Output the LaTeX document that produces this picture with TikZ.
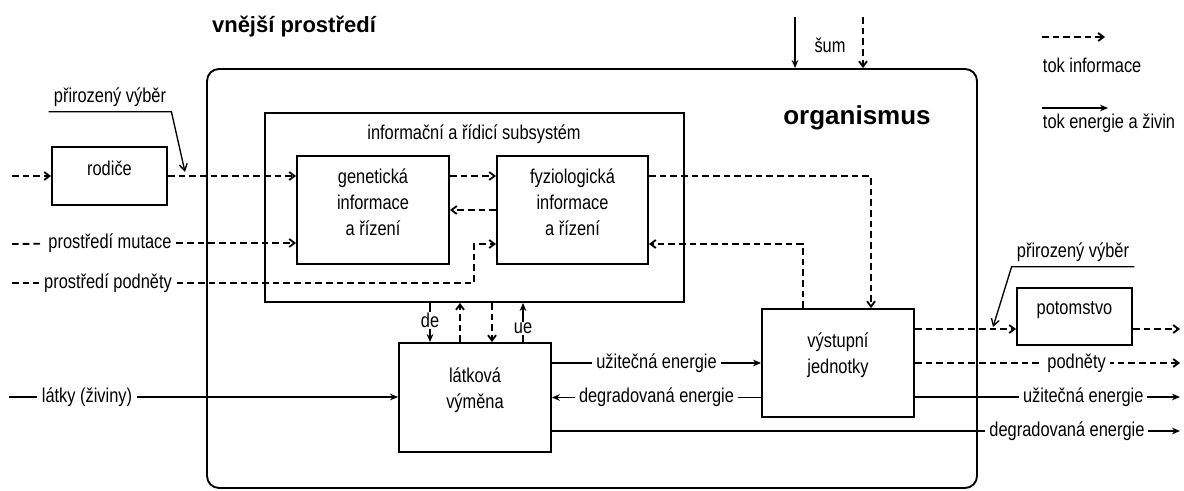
\documentclass[tikz,border=0pt]{standalone}
\usepackage{fontspec}
\setmainfont{Liberation Sans}[FakeStretch=0.82]
\newfontfamily\headfont{Liberation Sans}
\usetikzlibrary{arrows.meta,fit}

\begin{document}
\begin{tikzpicture}[x=0.75pt,y=-0.75pt,
  line width=1.4pt,
  font=\fontsize{15}{19.5}\selectfont,
  box/.style={draw,inner sep=0pt},
  info/.style={dash pattern=on 5pt off 3pt},
  ia/.style={info,-{Straight Barb[length=4pt,width=6pt]}},
  ea/.style={-{Stealth[length=6pt,width=5pt]}},
  lbl/.style={fill=white,inner sep=3pt},
  sel/.style={line width=1pt,-{Straight Barb[length=5pt,width=6pt]}},
  head/.style={font=\headfont\bfseries\fontsize{#1}{#1}\selectfont}]
\useasboundingbox (0,0) rectangle (1184,491);

\node[box,rounded corners=9pt,fit={(207,69) (977,488)}] (org) {};
\node[box,fit={(265,113) (684,302)}] (inf) {};
\node[box,fit={(52,147) (167,205)}] (rod) {rodiče};
\node[box,align=center,fit={(297,156) (449,264)}] (gen) {genetická\\informace\\a řízení};
\node[box,align=center,fit={(497,156) (648,264)}] (fyz) {fyziologická\\informace\\a řízení};
\node[box,align=center,fit={(399,343) (551,452)}] (lat) {látková\\výměna};
\node[box,align=center,fit={(762,309) (914,417)}] (vys) {výstupní\\jednotky};
\node[box,fit={(1017,288) (1132,345)}] (pot) {potomstvo};

\node[head=16.5] (vp) at (294,27) {vnější prostředí};
\node[head=19.5] (orgt) at (857,118) {organismus};
\node (inft) at (474,134) {informační a řídicí subsystém};
\node (sum) at (830,45) {šum};

\coordinate (s1) at (795,17);
\coordinate (s2) at (863,17);
\draw[ea] (s1) -- (s1 |- org.north);
\draw[ia] (s2) -- (s2 |- org.north);

\coordinate (l1) at (1042,37);
\coordinate (l2) at (1105,37);
\coordinate (l3) at (1042,108);
\coordinate (l4) at (1108,108);
\draw[ia] (l1) -- (l2);
\draw[ea] (l3) -- (l4);
\node[anchor=west,inner sep=0pt] (lt1) at (1042,65) {tok informace};
\node[anchor=west,inner sep=0pt] (lt2) at (1042,123) {tok energie a živin};

\coordinate (a1) at (12,176);
\draw[ia] (a1) -- (rod);
\draw[ia] (rod) -- (rod -| gen.west);
\node (pv1) at (110,97) {přirozený výběr};
\coordinate (pv1t) at (185,172);
\draw[sel] (pv1.south west) -- (pv1.south east) -- (pv1t);

\coordinate (a2) at (12,244);
\node[lbl] (mut) at (110,243) {prostředí mutace};
\draw[info] (a2) -- (mut);
\draw[ia] (mut) -- (mut -| gen.west);

\coordinate (a3) at (12,283);
\coordinate (c1) at (474,244);
\node[lbl] (pod) at (108,283) {prostředí podněty};
\draw[info] (a3) -- (pod);
\draw[ia] (pod) -| (c1) -- (c1 -| fyz.west);

\draw[ia] (rod -| gen.east) -- (rod -| fyz.west);
\draw[ia] (fyz) -- (gen);
\coordinate (c2) at (871,176);
\coordinate (c3) at (803,244);
\draw[ia] (rod -| fyz.east) -- (c2) -- (c2 |- vys.north);
\draw[ia] (c3 |- vys.north) -- (c3) -- (c3 -| fyz.east);

\foreach \x/\n in {430/v1,460/v2,492/v3,523/v4}
  \coordinate (\n) at (\x,0);
\draw[ea] (v1 |- inf.south) -- node[lbl,inner sep=1pt,pos=0.45]{de} (v1 |- lat.north);
\draw[ia] (v2 |- lat.north) -- (v2 |- inf.south);
\draw[ia] (v3 |- inf.south) -- (v3 |- lat.north);
\draw[ea] (v4 |- lat.north) -- node[lbl,inner sep=1pt,pos=0.35]{ue} (v4 |- inf.south);

\draw[ea] (vys.west -| lat.east) -- node[lbl]{užitečná energie} (vys.west);
\draw[ea] (lat.east -| vys.west) -- node[lbl]{degradovaná energie} (lat.east);

\coordinate (a4) at (9,397);
\node[lbl] (ziv) at (87,397) {látky (živiny)};
\draw (a4) -- (ziv);
\draw[ea] (ziv) -- (ziv -| lat.west);

\coordinate (b1) at (1180,329);
\coordinate (b3) at (1180,397);
\coordinate (b4) at (1180,431);
\draw[ia] (b1 -| vys.east) -- (b1 -| pot.west);
\draw[ia] (b1 -| pot.east) -- (b1);
\draw[ia] (vys) -- node[lbl,pos=0.61]{podněty} (vys -| b1);
\draw[ea] (b3 -| vys.east) -- node[lbl,pos=0.635]{užitečná energie} (b3);
\draw[ea] (b4 -| lat.east) -- node[lbl,pos=0.82]{degradovaná energie} (b4);

\node (pv2) at (1073,252) {přirozený výběr};
\coordinate (pv2t) at (993,327);
\draw[sel] (pv2.south east) -- (pv2.south west) -- (pv2t);
\end{tikzpicture}
\end{document}
